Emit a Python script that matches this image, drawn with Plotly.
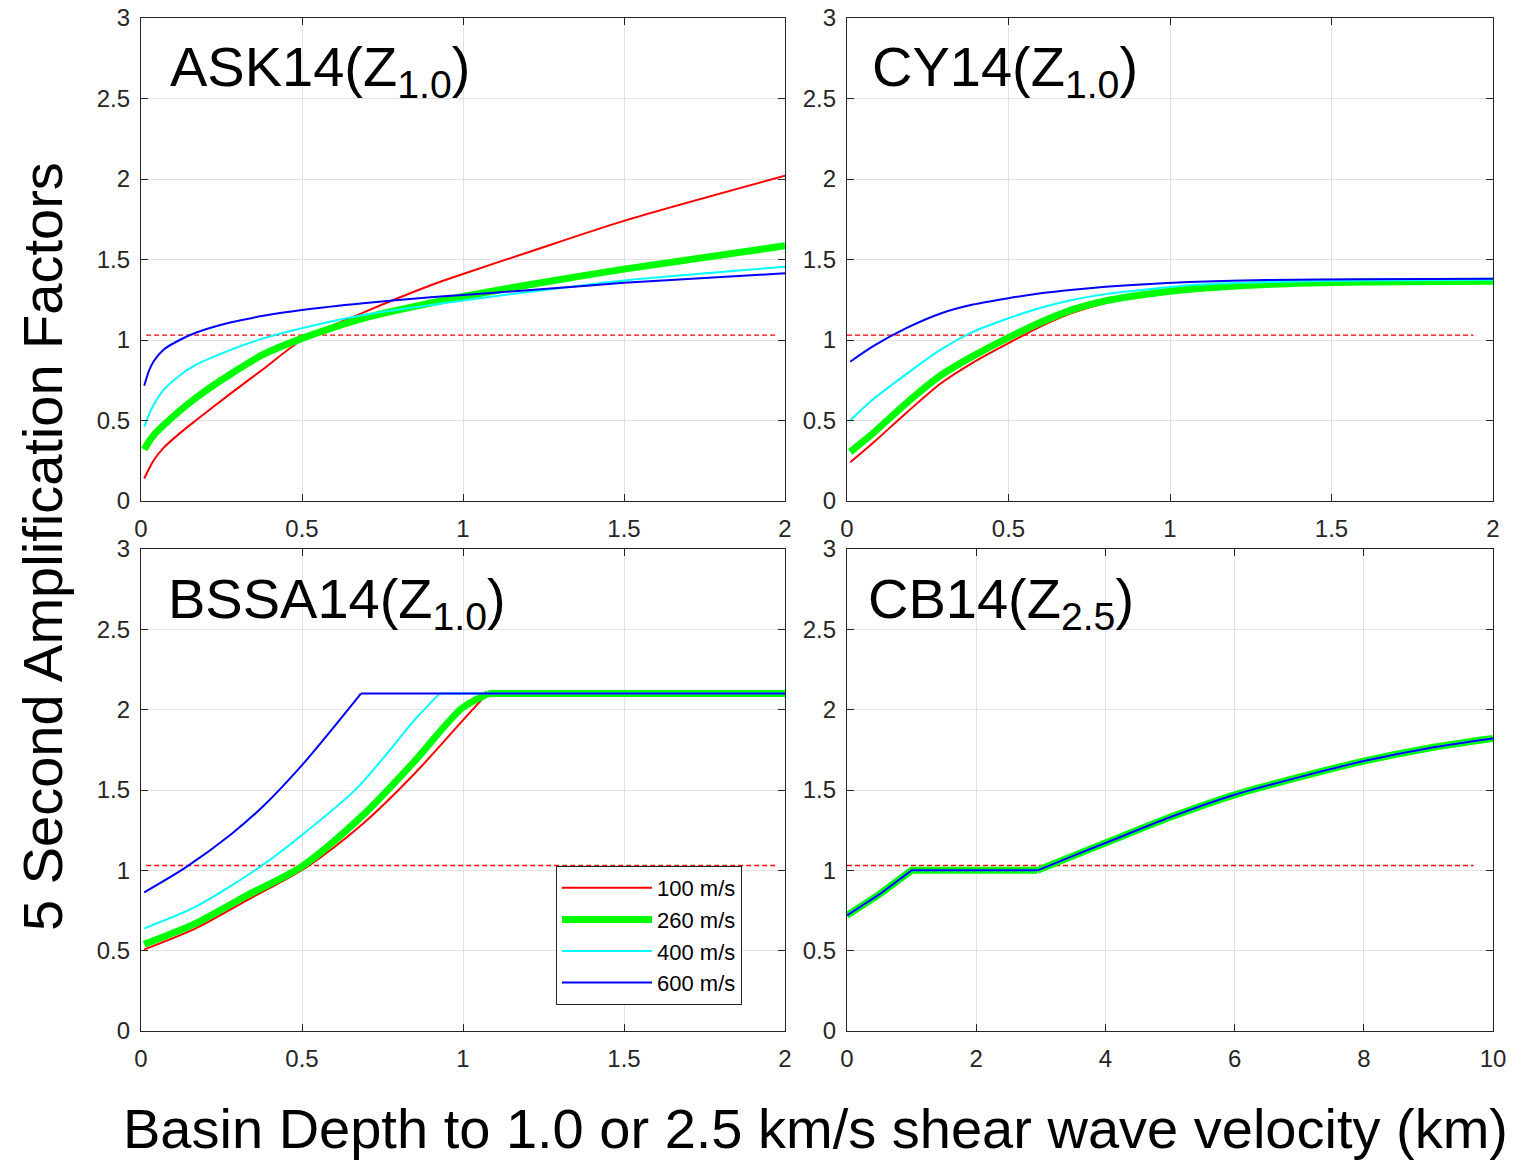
import plotly.graph_objects as go

# ---------------- data ----------------
series_names = ["100 m/s", "260 m/s", "400 m/s", "600 m/s"]
series_colors = ["#FF0000", "#00FF00", "#00FFFF", "#0000FF"]
series_widths = [2, 7, 2, 2]

# ASK14 (Z1.0)
ask_x = [0.01, 0.025, 0.04, 0.07, 0.12, 0.17, 0.28, 0.38, 0.5, 0.69, 0.9, 1.0, 1.21, 1.5, 2.0]
ask_red = [0.14, 0.20, 0.255, 0.33, 0.42, 0.50, 0.67, 0.82, 1.00, 1.17, 1.34, 1.41, 1.55, 1.74, 2.02]
ask_green = [0.32, 0.37, 0.41, 0.47, 0.56, 0.64, 0.79, 0.91, 1.01, 1.135, 1.23, 1.27, 1.345, 1.44, 1.585]
ask_cyan = [0.46, 0.54, 0.60, 0.69, 0.78, 0.845, 0.94, 1.01, 1.073, 1.155, 1.217, 1.245, 1.30, 1.37, 1.455]
ask_blue = [0.716, 0.81, 0.87, 0.94, 1.00, 1.045, 1.11, 1.15, 1.186, 1.228, 1.265, 1.28, 1.31, 1.355, 1.414]

# CY14 (Z1.0)
cy_x = [0.01, 0.08, 0.185, 0.29, 0.39, 0.5, 0.6, 0.7, 0.8, 0.91, 1.06, 1.3, 1.6, 2.0]
cy_red = [0.24, 0.36, 0.55, 0.73, 0.86, 0.98, 1.085, 1.17, 1.23, 1.27, 1.31, 1.345, 1.36, 1.365]
cy_green = [0.305, 0.42, 0.61, 0.78, 0.90, 1.015, 1.11, 1.19, 1.243, 1.28, 1.315, 1.345, 1.36, 1.365]
cy_cyan = [0.50, 0.63, 0.79, 0.94, 1.05, 1.135, 1.20, 1.25, 1.285, 1.31, 1.34, 1.36, 1.37, 1.375]
cy_blue = [0.865, 0.96, 1.075, 1.165, 1.22, 1.26, 1.29, 1.312, 1.33, 1.345, 1.36, 1.372, 1.378, 1.38]

# BSSA14 (Z1.0): rising part, then a plateau
bssa_red_x = [0.01, 0.17, 0.33, 0.515, 0.69, 0.85, 1.0, 1.075, 2.0]
bssa_red_y = [0.508, 0.639, 0.815, 1.022, 1.292, 1.603, 1.935, 2.10, 2.10]
bssa_green_x = [0.01, 0.17, 0.33, 0.5, 0.69, 0.85, 0.996, 1.079, 2.0]
bssa_green_y = [0.54, 0.67, 0.845, 1.025, 1.345, 1.68, 2.008, 2.10, 2.10]
bssa_cyan_x = [0.01, 0.17, 0.37, 0.5, 0.67, 0.856, 0.927, 2.0]
bssa_cyan_y = [0.639, 0.774, 1.022, 1.22, 1.51, 1.95, 2.10, 2.10]
bssa_blue_x = [0.01, 0.14, 0.28, 0.38, 0.5, 0.59, 0.683, 2.0]
bssa_blue_y = [0.863, 1.02, 1.225, 1.40, 1.655, 1.87, 2.10, 2.10]

# CB14 (Z2.5) - all four site classes coincide
cb_x = [0.0, 0.5, 1.0, 2.0, 2.95, 3.5, 4.0, 5.0, 6.0, 7.0, 8.0, 9.0, 10.0]
cb_y = [0.72, 0.85, 1.0, 1.0, 1.0, 1.09, 1.17, 1.33, 1.47, 1.58, 1.68, 1.76, 1.82]

# reference (dashed) line
ref_level = 1.03
ref_x_ask = [0.016, 1.975]
ref_x_cy = [0.0, 1.94]
ref_x_bssa = [0.016, 1.97]
ref_x_cb = [0.0, 9.7]

panel_titles = ["ASK14(Z<sub>1.0</sub>)", "CY14(Z<sub>1.0</sub>)",
                "BSSA14(Z<sub>1.0</sub>)", "CB14(Z<sub>2.5</sub>)"]
depth_ticks = [0, 0.5, 1, 1.5, 2]
depth_ticktext = ["0", "0.5", "1", "1.5", "2"]
cb_ticks = [0, 2, 4, 6, 8, 10]
cb_ticktext = ["0", "2", "4", "6", "8", "10"]
amp_ticks = [0, 0.5, 1, 1.5, 2, 2.5, 3]
amp_ticktext = ["0", "0.5", "1", "1.5", "2", "2.5", "3"]
x_title = "Basin Depth to 1.0 or 2.5 km/s shear wave velocity (km)"
y_title = "5 Second Amplification Factors"

# ---------------- layout geometry (screen pixels) ----------------
W, H = 1537, 1160
OFF = 8                                   # page body margin of the browser
L, R, T, B = 141, 1493, 18, 1031          # outer plot-area box on screen
PW, PH = R - L, B - T
FONT = "Liberation Sans, Arial, Helvetica, sans-serif"
TXT = "#262626"

def px2x(px):
    return (px - L) / PW

def px2y(py):
    return (B - py) / PH

fig = go.Figure()

def add_series(x, y, i, xa, ya, legend, split=None, first_shape="spline", second_shape="linear"):
    style = dict(color=series_colors[i], width=series_widths[i])
    if split is None:
        parts = [(x, y, first_shape)]
    else:
        parts = [(x[:split + 1], y[:split + 1], first_shape), (x[split:], y[split:], second_shape)]
    for k, (xx, yy, shp) in enumerate(parts):
        ln = dict(style, shape=shp)
        if shp == "spline":
            ln["smoothing"] = 0.8
        fig.add_trace(go.Scatter(x=xx, y=yy, mode="lines", name=series_names[i],
                                 legendgroup=series_names[i], line=ln,
                                 xaxis=xa, yaxis=ya,
                                 showlegend=(legend and k == 0)))

def add_ref(ref_x, xa, ya):
    fig.add_trace(go.Scatter(x=ref_x, y=[ref_level, ref_level], mode="lines",
                             line=dict(color="#FF0000", width=1.3, dash="5px,3px"),
                             xaxis=xa, yaxis=ya, showlegend=False, hoverinfo="skip"))

# ASK14
add_ref(ref_x_ask, "x", "y")
for i, yy in enumerate([ask_red, ask_green, ask_cyan, ask_blue]):
    add_series(ask_x, yy, i, "x", "y", False)
# CY14
add_ref(ref_x_cy, "x2", "y2")
for i, yy in enumerate([cy_red, cy_green, cy_cyan, cy_blue]):
    add_series(cy_x, yy, i, "x2", "y2", False)
# BSSA14
add_ref(ref_x_bssa, "x3", "y3")
bssa = [(bssa_red_x, bssa_red_y, 7), (bssa_green_x, bssa_green_y, 7),
        (bssa_cyan_x, bssa_cyan_y, 6), (bssa_blue_x, bssa_blue_y, 6)]
for i, (xx, yy, k) in enumerate(bssa):
    add_series(xx, yy, i, "x3", "y3", True, split=k)
# CB14
add_ref(ref_x_cb, "x4", "y4")
for i in range(4):
    add_series(cb_x, cb_y, i, "x4", "y4", False, split=4,
               first_shape="linear", second_shape="spline")

xl = [0, px2x(785)]
xr = [px2x(847), 1]
yt = [px2y(501), 1]
yb = [0, px2y(549)]

def axis_style(domain, rng, tv, tt, anchor, standoff):
    return dict(domain=domain, range=rng, tickvals=tv, ticktext=tt, anchor=anchor,
                automargin=False, ticklabeloverflow="allow",
                showgrid=True, gridcolor="#e2e2e2", gridwidth=1, zeroline=False,
                showline=True, linecolor=TXT, linewidth=1.3, mirror="ticks",
                ticks="inside", ticklen=7, tickcolor=TXT, tickwidth=1.3,
                ticklabelstandoff=standoff,
                tickfont=dict(family=FONT, size=24, color=TXT))

fig.update_layout(
    xaxis=axis_style(xl, [0, 2], depth_ticks, depth_ticktext, "y", 6),
    yaxis=axis_style(yt, [0, 3], amp_ticks, amp_ticktext, "x", 5),
    xaxis2=axis_style(xr, [0, 2], depth_ticks, depth_ticktext, "y2", 6),
    yaxis2=axis_style(yt, [0, 3], amp_ticks, amp_ticktext, "x2", 5),
    xaxis3=axis_style(xl, [0, 2], depth_ticks, depth_ticktext, "y3", 6),
    yaxis3=axis_style(yb, [0, 3], amp_ticks, amp_ticktext, "x3", 5),
    xaxis4=axis_style(xr, [0, 10], cb_ticks, cb_ticktext, "y4", 6),
    yaxis4=axis_style(yb, [0, 3], amp_ticks, amp_ticktext, "x4", 5),
)

title_pos = [("x domain", "y domain", 0.042, 0.892),
             ("x2 domain", "y2 domain", 0.036, 0.892),
             ("x3 domain", "y3 domain", 0.039, 0.888),
             ("x4 domain", "y4 domain", 0.029, 0.888)]
for (xr_, yr_, px, py), t in zip(title_pos, panel_titles):
    fig.add_annotation(text=t, xref=xr_, yref=yr_, x=px, y=py, xanchor="left",
                       yanchor="middle", showarrow=False,
                       font=dict(family=FONT, size=56, color="black"))

fig.add_annotation(text=x_title, xref="paper", yref="paper", x=px2x(815), y=px2y(1128),
                   xanchor="center", yanchor="middle", showarrow=False,
                   font=dict(family=FONT, size=56, color="black"))
fig.add_annotation(text=y_title, xref="paper", yref="paper", x=px2x(42), y=px2y(547),
                   xanchor="center", yanchor="middle", textangle=-90, showarrow=False,
                   font=dict(family=FONT, size=56, color="black"))

fig.update_layout(
    width=W, height=H,
    margin=dict(l=L - OFF, r=W - R + OFF, t=T - OFF, b=H - B + OFF, autoexpand=False),
    paper_bgcolor="white", plot_bgcolor="white",
    font=dict(family=FONT, color=TXT),
    legend=dict(x=px2x(556), y=px2y(866), xanchor="left", yanchor="top",
                bgcolor="white", bordercolor="#262626", borderwidth=1,
                tracegroupgap=0,
                font=dict(family=FONT, size=22, color="black"), itemwidth=90),
)

fig.write_html("out.html")
